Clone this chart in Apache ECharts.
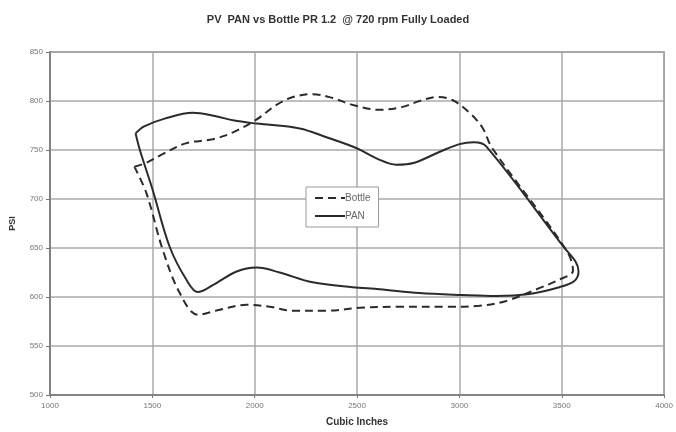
<!DOCTYPE html>
<html>
<head>
<meta charset="utf-8">
<script src="https://cdn.jsdelivr.net/npm/echarts@6/dist/echarts.min.js"></script>
<style>
  html, body { margin: 0; padding: 0; background: #fff; }
  #chart { width: 676px; height: 432px; }
</style>
</head>
<body>
<div id="chart"></div>
<script>
// tick values
const xTicks = [1000, 1500, 2000, 2500, 3000, 3500, 4000]
const yTicks = [500, 550, 600, 650, 700, 750, 800, 850]

// PAN loop (cubic inches, psi)
const panX = [1418, 1460, 1560, 1698, 1800, 1900, 2010, 2220, 2350, 2496, 2600, 2691, 2780, 2902, 3000, 3070, 3130, 3510, 3568, 3582, 3560, 3488, 3341, 3180, 3015, 2805, 2610, 2478, 2283, 2122, 2010, 1912, 1795, 1722, 1668, 1585, 1502, 1439, 1418]
const panY = [767, 774, 782, 788, 785, 780, 777, 772, 763, 752, 741, 735, 737, 748, 756, 758, 754, 651, 636, 626, 616, 610, 603, 601, 602, 604, 608, 610, 615, 625, 630, 626, 612, 605, 617, 651, 709, 750, 767]

// Bottle loop (cubic inches, psi)
const bottleX = [1412, 1471, 1552, 1667, 1795, 1894, 2008, 2106, 2187, 2284, 2381, 2480, 2610, 2722, 2805, 2893, 2966, 3049, 3112, 3160, 3522, 3555, 3480, 3390, 3229, 3098, 2936, 2700, 2512, 2351, 2185, 2073, 1961, 1829, 1722, 1634, 1551, 1471, 1412]
const bottleY = [733, 737, 746, 757, 761, 768, 781, 796, 804, 807, 803, 796, 791, 794, 800, 804, 801, 788, 773, 752, 648, 627, 617, 609, 596, 591, 590, 590, 589, 586, 586, 590, 592, 587, 582, 604, 648, 706, 733]

const chart = echarts.init(document.getElementById('chart'))

const pair = (xs, ys) => xs.map((x, i) => [x, ys[i]])
const lineColor = '#2b2b2b'

chart.setOption({
  animation: false,
  title: {
    text: 'PV  PAN vs Bottle PR 1.2  @ 720 rpm Fully Loaded',
    left: 'center',
    top: 9,
    textStyle: { fontFamily: 'Liberation Sans', fontSize: 11, fontWeight: 'bold', color: '#333' }
  },
  legend: {
    orient: 'vertical',
    left: 306,
    top: 187,
    padding: [6, 8, 6, 8],
    itemGap: 8,
    itemWidth: 30,
    itemHeight: 10,
    borderColor: '#999',
    borderWidth: 1,
    backgroundColor: '#fff',
    itemStyle: { opacity: 0 },
    textStyle: { fontFamily: 'Liberation Sans', fontSize: 10, color: '#666', padding: [0, 0, 0, -5] },
    data: ['Bottle', 'PAN']
  },
  grid: { left: 50, right: 11, top: 52, bottom: 37, show: true, borderColor: '#888', borderWidth: 1.5 },
  xAxis: {
    type: 'value',
    min: xTicks[0],
    max: xTicks[xTicks.length - 1],
    interval: 500,
    name: 'Cubic Inches',
    nameLocation: 'middle',
    nameGap: 22,
    nameTextStyle: { fontFamily: 'Liberation Sans', fontSize: 10, fontWeight: 'bold', color: '#333' },
    axisLine: { lineStyle: { color: '#777', width: 1.5 } },
    axisTick: { show: true, length: 3, lineStyle: { color: '#777' } },
    axisLabel: { fontFamily: 'Liberation Sans', fontSize: 8, color: '#777', margin: 7, formatter: v => String(v) },
    splitLine: { lineStyle: { color: '#aaa', width: 1.5 } }
  },
  yAxis: {
    type: 'value',
    min: yTicks[0],
    max: yTicks[yTicks.length - 1],
    interval: 50,
    name: 'PSI',
    nameLocation: 'middle',
    nameGap: 33,
    nameTextStyle: { fontFamily: 'Liberation Sans', fontSize: 9, fontWeight: 'bold', color: '#333' },
    axisLine: { show: true, lineStyle: { color: '#777', width: 1.5 } },
    axisTick: { show: true, length: 4, lineStyle: { color: '#777' } },
    axisLabel: { fontFamily: 'Liberation Sans', fontSize: 8, color: '#777', margin: 7 },
    splitLine: { lineStyle: { color: '#aaa', width: 1.5 } }
  },
  series: [
    {
      name: 'Bottle',
      type: 'line',
      smooth: 0.35,
      showSymbol: false,
      symbol: 'none',
      color: lineColor,
      lineStyle: { color: lineColor, width: 2, type: [8, 5] },
      data: pair(bottleX, bottleY)
    },
    {
      name: 'PAN',
      type: 'line',
      smooth: 0.35,
      showSymbol: false,
      symbol: 'none',
      color: lineColor,
      lineStyle: { color: lineColor, width: 2 },
      data: pair(panX, panY)
    }
  ]
})
</script>
</body>
</html>
